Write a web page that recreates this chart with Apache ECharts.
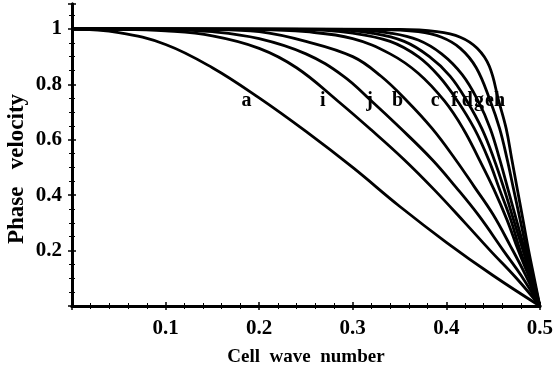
<!DOCTYPE html>
<html>
<head>
<meta charset="utf-8">
<script src="https://cdn.jsdelivr.net/npm/echarts@6/dist/echarts.min.js"></script>
<style>
  html, body { margin: 0; padding: 0; background: #fff; }
  #chart { width: 556px; height: 373px; }
</style>
</head>
<body>
<div id="chart"></div>
<script>
// Dispersion curves: phase velocity against cell wave number, one curve per case a..j
const curveA = [[0,1],[0.05,0.987],[0.1,0.944],[0.15,0.86],[0.2,0.751],[0.25,0.63],[0.3,0.5],[0.35,0.36],[0.4,0.23],[0.45,0.11],[0.5,0]];
const curveI = [[0,1],[0.05,0.999],[0.1,0.993],[0.15,0.975],[0.2,0.93],[0.24,0.86],[0.284,0.74],[0.32,0.635],[0.355,0.528],[0.387,0.42],[0.42,0.3],[0.447,0.2],[0.475,0.1],[0.5,0]];
const curveJ = [[0,1],[0.1,0.998],[0.15,0.99],[0.2,0.965],[0.25,0.91],[0.29,0.83],[0.32,0.74],[0.35,0.645],[0.385,0.528],[0.41,0.43],[0.435,0.325],[0.461,0.2],[0.48,0.11],[0.5,0]];
const curveB = [[0,1],[0.15,0.998],[0.2,0.99],[0.25,0.955],[0.3,0.9],[0.33,0.83],[0.358,0.74],[0.385,0.64],[0.41,0.528],[0.43,0.43],[0.45,0.33],[0.468,0.22],[0.485,0.11],[0.5,0]];
const curveC = [[0,1],[0.2,0.998],[0.25,0.99],[0.3,0.965],[0.34,0.91],[0.37,0.84],[0.398,0.74],[0.418,0.64],[0.435,0.53],[0.451,0.42],[0.465,0.31],[0.477,0.2],[0.489,0.1],[0.5,0]];
const curveF = [[0,1],[0.25,0.998],[0.3,0.985],[0.34,0.955],[0.37,0.9],[0.392,0.83],[0.412,0.74],[0.43,0.64],[0.445,0.53],[0.457,0.42],[0.469,0.31],[0.479,0.2],[0.49,0.1],[0.5,0]];
const curveD = [[0,1],[0.28,0.998],[0.32,0.985],[0.355,0.955],[0.382,0.9],[0.404,0.83],[0.422,0.74],[0.438,0.64],[0.451,0.53],[0.462,0.42],[0.472,0.31],[0.482,0.2],[0.491,0.1],[0.5,0]];
const curveG = [[0,1],[0.3,0.998],[0.34,0.985],[0.37,0.96],[0.395,0.91],[0.417,0.835],[0.434,0.74],[0.447,0.64],[0.457,0.53],[0.466,0.42],[0.475,0.31],[0.484,0.2],[0.492,0.1],[0.5,0]];
const curveE = [[0,1],[0.33,0.998],[0.37,0.99],[0.395,0.97],[0.415,0.93],[0.432,0.86],[0.447,0.74],[0.457,0.64],[0.465,0.53],[0.472,0.42],[0.479,0.31],[0.486,0.2],[0.493,0.1],[0.5,0]];
const curveH = [[0,1],[0.35,0.998],[0.39,0.99],[0.415,0.97],[0.433,0.93],[0.446,0.865],[0.456,0.74],[0.464,0.64],[0.47,0.53],[0.476,0.42],[0.482,0.31],[0.488,0.2],[0.494,0.1],[0.5,0]];

const curves = [curveA, curveI, curveJ, curveB, curveC, curveF, curveD, curveG, curveE, curveH];

// Curve letters and where they sit
const letterNames = ['a', 'i', 'j', 'b', 'c', 'f', 'd', 'g', 'e', 'h'];
const letterX = [0.1866, 0.268, 0.318, 0.348, 0.388, 0.4085, 0.4225, 0.435, 0.446, 0.457];
const letterY = [0.741, 0.741, 0.741, 0.741, 0.741, 0.741, 0.741, 0.741, 0.741, 0.741];

// Axis ticks
const xTicks = [0.1, 0.2, 0.3, 0.4, 0.5];
const yTicks = [0.2, 0.4, 0.6, 0.8, 1];

const FONT = '"Liberation Serif", "DejaVu Serif", serif';
const AXIS_LINE = { show: true, lineStyle: { color: '#000', width: 3 } };
const TICK = { show: true, inside: true, length: 4, lineStyle: { color: '#000', width: 1.5 } };

function fmtTick(list) {
  return function (v) {
    const hit = list.find(t => Math.abs(t - v) < 1e-6);
    return hit === undefined ? '' : String(hit);
  };
}

const chart = echarts.init(document.getElementById('chart'), null, { renderer: 'canvas' });

const lineSeries = curves.map((c, i) => ({
  type: 'line',
  name: letterNames[i],
  xAxisIndex: 0,
  yAxisIndex: 0,
  data: c,
  showSymbol: false,
  smooth: 0.4,
  lineStyle: { color: '#000', width: 2.8 },
  silent: true,
  z: 3
}));

const letterSeries = {
  type: 'scatter',
  xAxisIndex: 0,
  yAxisIndex: 0,
  symbolSize: 0,
  silent: true,
  itemStyle: { opacity: 1 },
  data: letterNames.map((n, i) => ({ name: n, value: [letterX[i], letterY[i]] })),
  label: {
    show: true,
    position: 'inside',
    formatter: '{b}',
    fontFamily: FONT,
    fontWeight: 'bold',
    fontSize: 20,
    color: '#000',
    opacity: 1
  },
  z: 4
};

chart.setOption({
  animation: false,
  backgroundColor: '#fff',
  grid: { left: 72, right: 12, top: 4, bottom: 67 },
  graphic: [{
    type: 'text',
    x: 17, y: 169,
    rotation: Math.PI / 2,
    style: {
      text: 'Phase   velocity',
      fill: '#000',
      font: 'bold 23px ' + FONT,
      textAlign: 'center',
      textVerticalAlign: 'middle'
    }
  }],
  xAxis: [
    {
      type: 'value', min: 0, max: 0.5, interval: 0.1,
      position: 'bottom',
      axisLine: AXIS_LINE,
      axisTick: TICK,
      minorTick: { show: true, splitNumber: 5, length: 3, lineStyle: { color: '#000', width: 1 } },
      splitLine: { show: false },
      axisLabel: {
        formatter: fmtTick(xTicks), color: '#000', fontFamily: FONT, fontWeight: 'bold',
        fontSize: 21, margin: 12
      },
      name: 'Cell  wave  number', nameLocation: 'middle', nameGap: 42,
      nameTextStyle: { color: '#000', fontFamily: FONT, fontWeight: 'bold', fontSize: 19 }
    },
    {
      type: 'value', min: 0, max: 0.5, interval: 0.1,
      position: 'top',
      axisLine: AXIS_LINE,
      axisTick: TICK,
      minorTick: { show: true, splitNumber: 5, length: 3, lineStyle: { color: '#000', width: 1 } },
      splitLine: { show: false },
      axisLabel: { show: false }
    }
  ],
  yAxis: [
    {
      type: 'value', min: 0, max: 1.09, interval: 0.2,
      position: 'left',
      axisLine: AXIS_LINE,
      axisTick: TICK,
      minorTick: { show: true, splitNumber: 4, length: 3, lineStyle: { color: '#000', width: 1 } },
      splitLine: { show: false },
      axisLabel: {
        formatter: fmtTick(yTicks), color: '#000', fontFamily: FONT, fontWeight: 'bold',
        fontSize: 21, margin: 10
      }
    },
    {
      type: 'value', min: 0, max: 1.09, interval: 0.2,
      position: 'right',
      axisLine: AXIS_LINE,
      axisTick: TICK,
      minorTick: { show: true, splitNumber: 4, length: 3, lineStyle: { color: '#000', width: 1 } },
      splitLine: { show: false },
      axisLabel: { show: false }
    }
  ],
  series: [...lineSeries, letterSeries]
});
</script>
</body>
</html>
